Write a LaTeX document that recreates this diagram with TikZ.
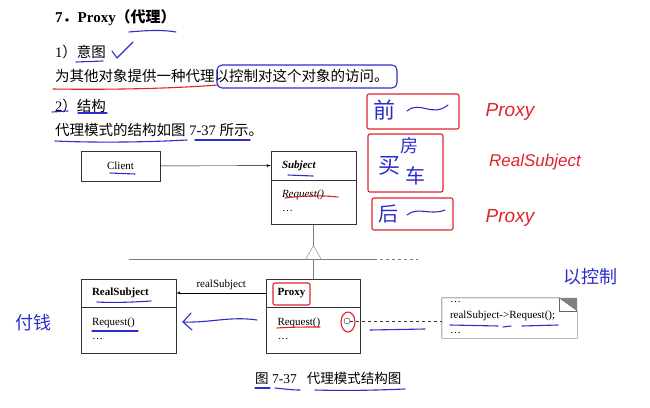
\documentclass[tikz,border=0pt]{standalone}
\usepackage{fontspec}
\setmainfont{Liberation Serif}
\newfontfamily\cjk{Noto Sans CJK SC}
\newfontfamily\hand{Liberation Sans}
\usetikzlibrary{arrows,positioning}
\definecolor{penblue}{RGB}{45,45,205}
\definecolor{penred}{RGB}{222,35,45}
\definecolor{linegray}{RGB}{125,125,125}

\tikzset{
  txt/.style={anchor=west, inner sep=0pt, font=\fontsize{14.5}{17}\selectfont},
  uml/.style={font=\fontsize{11}{14}\selectfont},
  cls/.style={draw=black!80, uml, inner xsep=11pt, inner ysep=0pt, align=left, text width=#1},
  bluepen/.style={draw=penblue, line width=1.1pt, line cap=round, line join=round},
  redpen/.style={draw=penred, line width=1.1pt, line cap=round, line join=round},
  bluehand/.style={text=penblue, inner sep=0pt, font=\cjk\fontsize{#1}{#1}\selectfont},
  redhand/.style={text=penred, inner sep=0pt, font=\hand\itshape\fontsize{#1}{#1}\selectfont}
}

\begin{document}
\begin{tikzpicture}[x=1pt,y=-1pt,node distance=0pt,auto]
  \useasboundingbox (0,0) rectangle (650,407);

  \node[txt, font=\fontsize{15}{18}\selectfont\bfseries] (title) at (55,18) {7{\cjk ．}Proxy{\cjk （代理）}};
  \node[txt] (intent) at (55,52) {1{\cjk ）意图}};
  \node[txt] (intent-txt) at (55,76) {\cjk 为其他对象提供一种代理以控制对这个对象的访问。};
  \node[txt] (struct) at (55,106) {2{\cjk ）结构}};
  \node[txt] (struct-txt) at (55,130) {{\cjk 代理模式的结构如图} 7-37 {\cjk 所示。}};

  \node[draw=black!80, uml, minimum width=79pt, minimum height=30pt] (client) at (120.5,166) {Client};
  \node[cls=63pt, minimum height=29pt] (subj) at (313.5,165.5) {\textbf{\textit{Subject}}};
  \node[cls=63pt, minimum height=44pt] (subj-ops) [below=of subj] {\textit{Request()}\\\dots\strut};
  \node[cls=73pt, minimum height=28pt] (real) at (128.5,293) {\textbf{RealSubject}};
  \node[cls=73pt, minimum height=46pt] (real-ops) [below=of real] {Request()\\\dots\strut};
  \node[cls=72pt, minimum height=28pt] (proxy) at (313.5,293) {\textbf{Proxy}};
  \node[cls=72pt, minimum height=46pt] (proxy-ops) [below=of proxy] {Request()\\\dots\strut};
  \node[circle, draw=black!80, inner sep=0pt, minimum size=6pt] (pc) at (347,321) {};
  \node[uml, font=\fontsize{11}{15.5}\selectfont, align=left, text width=119pt, inner xsep=8pt, minimum height=40pt] (note) at (509.5,318) {\dots\\realSubject->Request();\\\dots};

  \draw[black!80] (note.north west) -- ([xshift=-18pt]note.north east) -- ([yshift=-13pt]note.north east) -- (note.south east) -- (note.south west) -- cycle;
  \fill[gray] ([xshift=-18pt]note.north east) -- (note.north east) -- ([yshift=-13pt]note.north east) -- cycle;
  \draw[black!60] ([xshift=-18pt]note.north east) |- ([yshift=-13pt]note.north east);

  \coordinate[below=21pt of subj-ops.south] (tip);
  \coordinate[below=14pt of tip] (base);
  \draw[linegray] (subj-ops.south) -- (tip);
  \draw[linegray, fill=white] (tip) -- ++(-8,14) -- ++(16,0) -- cycle;
  \draw[linegray] (base) -- (proxy.north);
  \draw[linegray] (base -| real.north) -- ++(245,0) coordinate (bus-r);
  \draw[linegray, dashed] (bus-r) -- ++(44,0);

  \path[-latex, black]
    (client) edge (subj)
    (proxy) edge node[swap, uml] {realSubject} (real);
  \draw[black!80, dashed] (pc) -- (pc -| note.west);

  % handwritten notes
  \draw[bluepen] (129,32) .. controls (150,30) and (165,30) .. (176,32);
  \draw[bluepen] (112,51) -- (117,58) -- (133,42);
  \draw[bluepen] (76,62) -- (103,61);
  \draw[redpen] (53,89) .. controls (120,90) and (180,88) .. (218,85);
  \draw[bluepen, rounded corners=5pt] (217,65) rectangle (397,88);
  \draw[bluepen] (52,112) -- (68,111);
  \draw[bluepen] (78,113) -- (107,113);
  \draw[bluepen] (55,141) .. controls (100,143) and (150,142) .. (187,140);
  \draw[bluepen] (195,140) -- (250,140);
  \draw[bluepen] (110,173) -- (135,174);
  \draw[bluepen] (288,175) -- (313,176);
  \draw[redpen] (285,198) .. controls (300,196) and (320,195) .. (338,197);
  \draw[bluepen] (97,302) .. controls (115,303) and (135,302) .. (151,301);
  \draw[bluepen] (92,331) -- (138,331);
  \draw[redpen, rounded corners=2pt] (273,283) rectangle (310,305);
  \draw[redpen] (277,328) .. controls (290,327) and (305,327) .. (320,327);
  \draw[redpen] (348,322) ellipse (7 and 10);
  \draw[bluepen] (257,320) .. controls (230,316) and (210,323) .. (183,322);
  \draw[bluepen] (191,313) -- (183,322) -- (192,330);
  \draw[bluepen] (370,330) -- (425,329);
  \draw[bluepen] (450,325) -- (498,326);
  \draw[bluepen] (503,327) -- (511,326);
  \draw[bluepen] (522,326) -- (558,325);

  \draw[redpen, rounded corners=2pt] (367,94) rectangle (459,129);
  \draw[redpen, rounded corners=2pt] (368,134) rectangle (443,192);
  \draw[redpen, rounded corners=2pt] (372,198) rectangle (453,230);
  \node[bluehand=22] (qian) at (384,110) {前};
  \draw[bluepen] (407,111) .. controls (420,100) and (432,118) .. (448,105);
  \node[bluehand=18] (fang) at (409,146) {房};
  \node[bluehand=22] (mai) at (389,166) {买};
  \node[bluehand=20] (che) at (415,176) {车};
  \node[bluehand=20] (hou) at (388,214) {后};
  \draw[bluepen] (407,215) .. controls (418,206) and (430,216) .. (445,210);
  \node[redhand=19] (r-proxy1) at (510,112) {Proxy};
  \node[redhand=17] (r-real) at (535,162) {RealSubject};
  \node[redhand=19] (r-proxy2) at (510,218) {Proxy};
  \node[bluehand=18] (pay) at (33,323) {付钱};
  \node[bluehand=18] (ctrl) at (590,277) {以控制};

  \node[txt, font=\fontsize{13.5}{16}\selectfont] (caption) at (255,378) {{\cjk 图} 7-37\hspace{10pt}{\cjk 代理模式结构图}};
  \draw[bluepen] (255,388) -- (270,388);
  \draw[bluepen] (275,388) .. controls (285,389) and (292,390) .. (300,390);
  \draw[bluepen] (315,390) .. controls (350,391) and (380,390) .. (405,389);
\end{tikzpicture}
\end{document}
